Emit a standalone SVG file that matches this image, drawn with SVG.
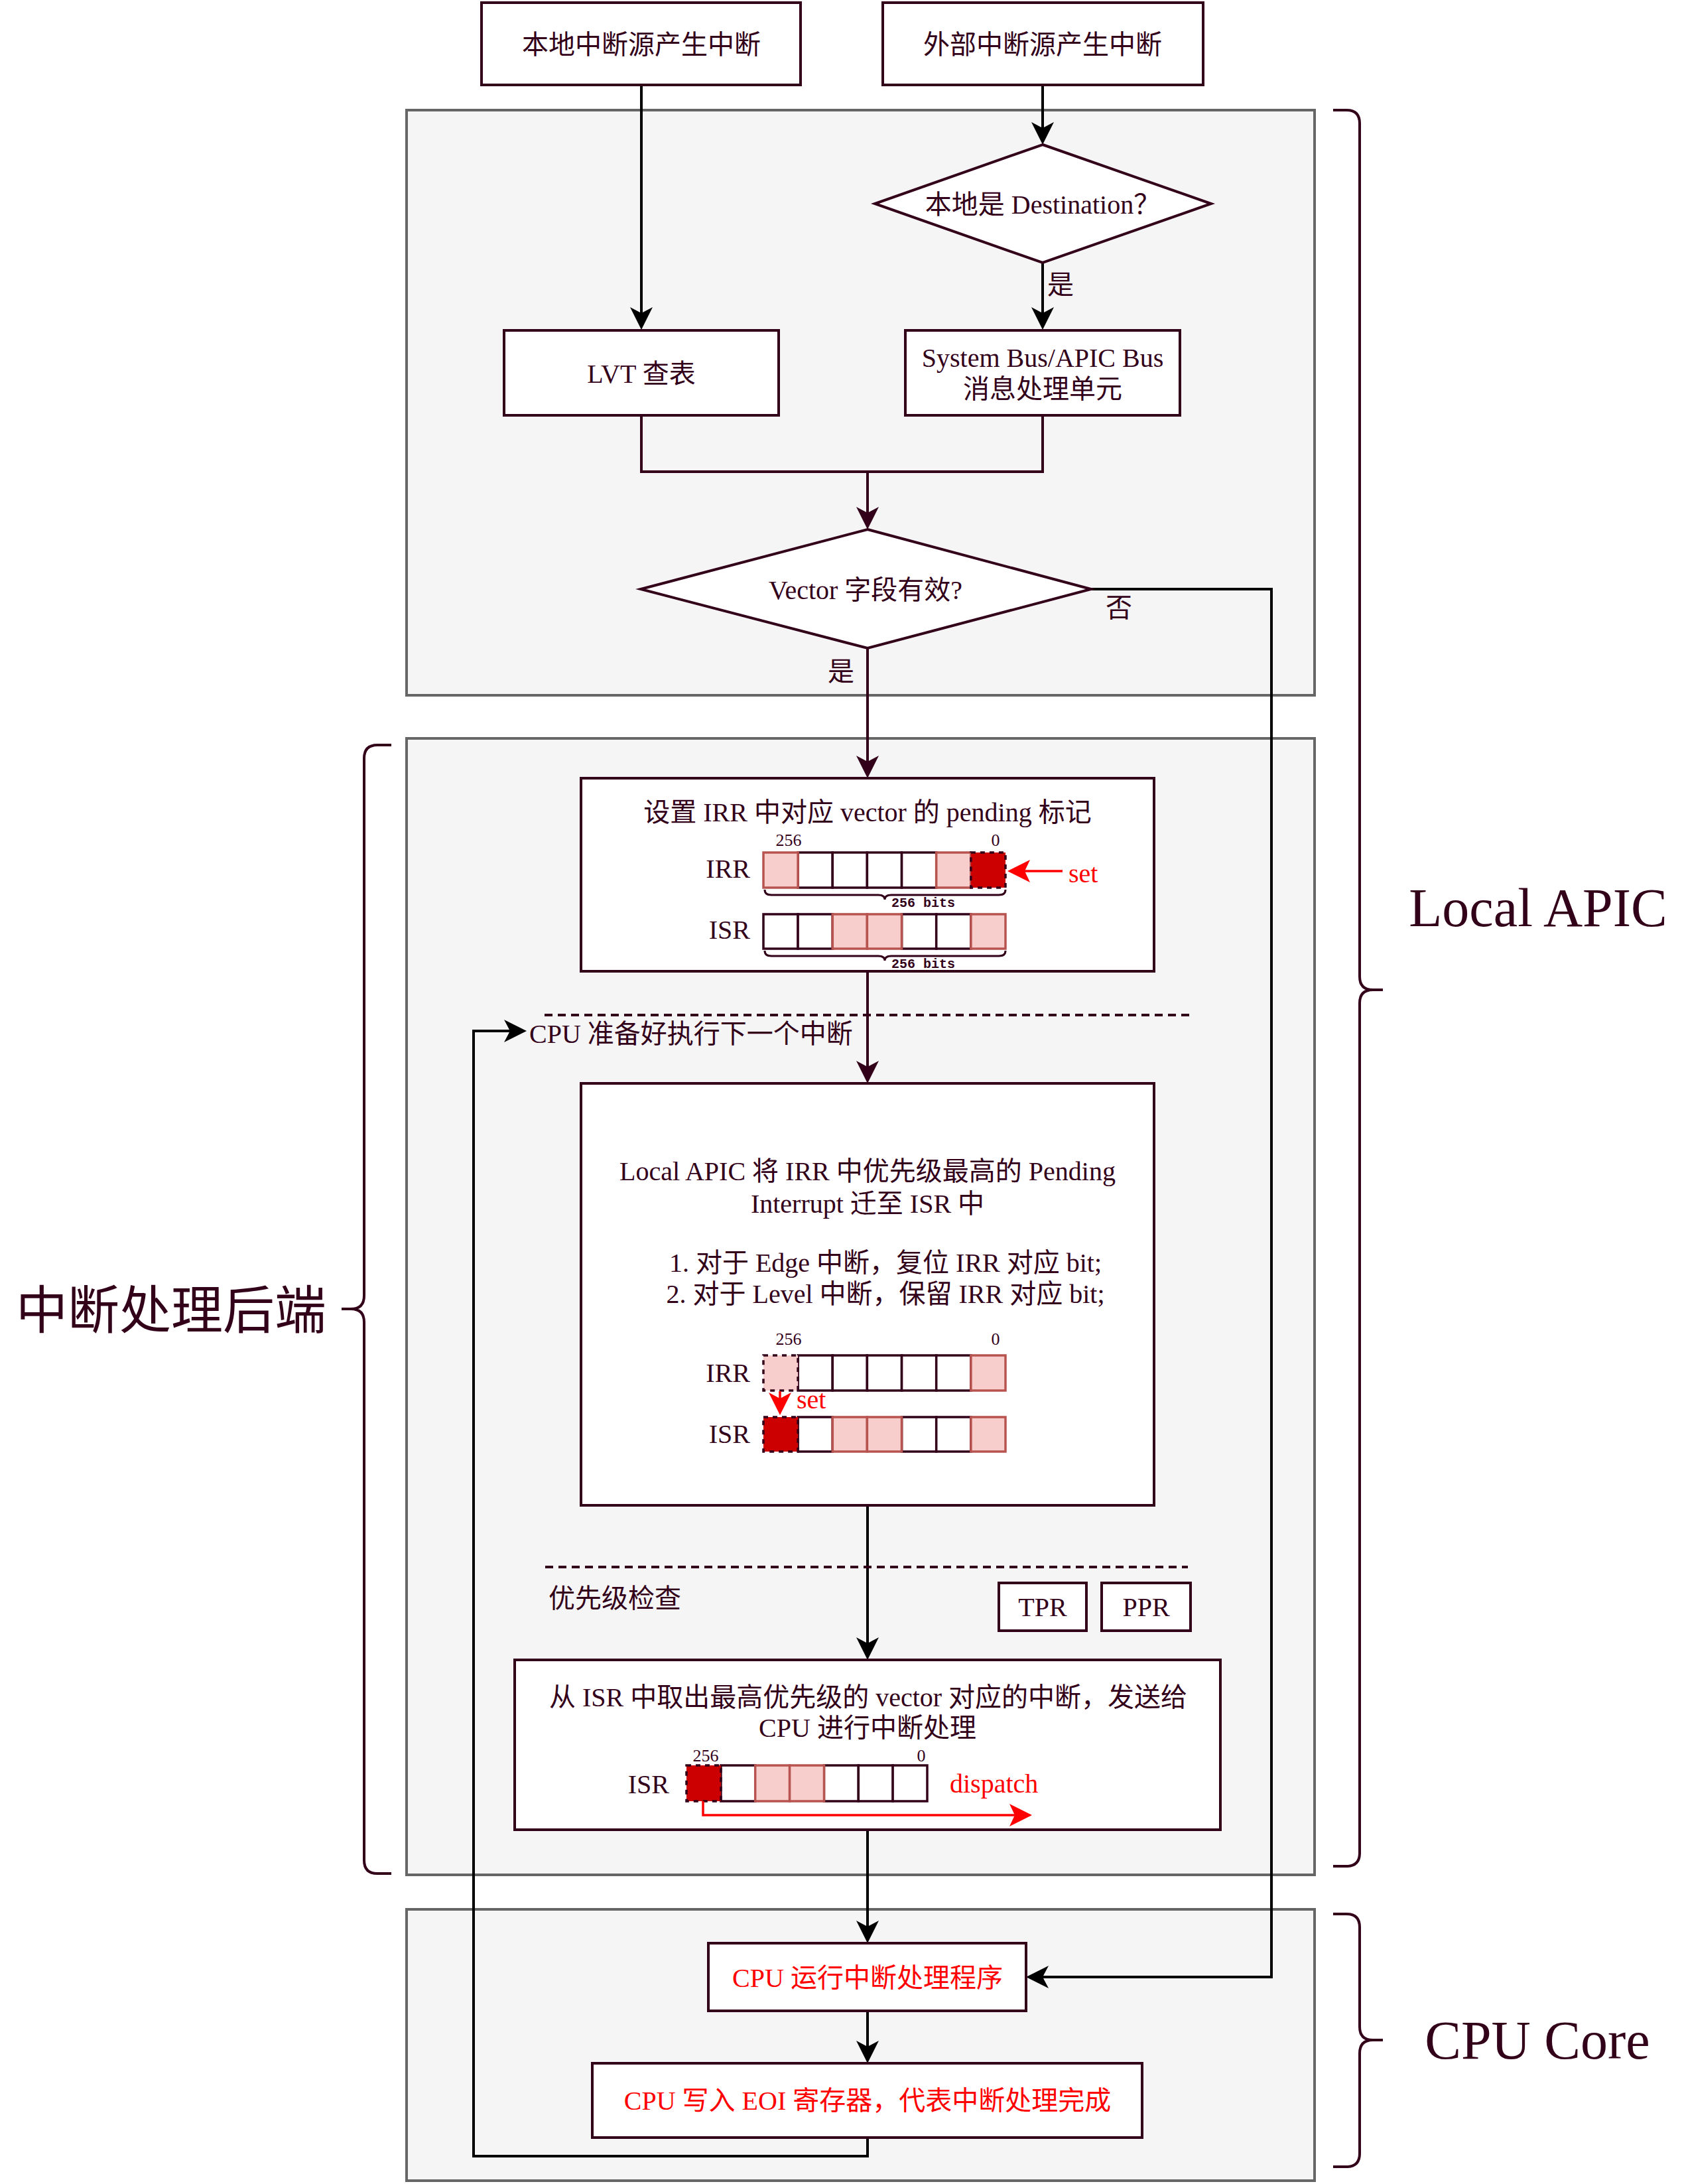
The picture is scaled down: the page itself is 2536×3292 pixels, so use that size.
<svg xmlns="http://www.w3.org/2000/svg" width="2536" height="3292" viewBox="0 0 2536 3292">
<style>
text{font-family:'Liberation Serif','Noto Sans CJK SC',serif;font-size:40px;fill:#33001a}
.c{text-anchor:middle}
.e{text-anchor:end}
.red{fill:#ff0000}
.big{font-size:82px}
.cjkbig{font-size:78px}
.mono{font-family:'Liberation Mono',monospace;font-size:20px;font-weight:bold}
.sm{font-size:26px}
.cont{fill:#f5f5f5;stroke:#666666;stroke-width:4}
.box{fill:#ffffff;stroke:#33001a;stroke-width:4}
.w{fill:#ffffff;stroke:#33001a;stroke-width:3.5}
.p{fill:#f8cecc;stroke:#b85450;stroke-width:3.5}
.d{fill:#cc0000;stroke:#33001a;stroke-width:3.5;stroke-dasharray:7 7}
.pd{fill:#f8cecc;stroke:#33001a;stroke-width:3.5;stroke-dasharray:7 7}
.conn{fill:none;stroke:#000000;stroke-width:4}
.connm{fill:none;stroke:#33001a;stroke-width:4}
.brace{fill:none;stroke:#33001a;stroke-width:4}
.sbrace{fill:none;stroke:#33001a;stroke-width:3}
.dash{stroke:#33001a;stroke-width:4;stroke-dasharray:12 8}
.ra{fill:none;stroke:#ff0000;stroke-width:3.5}
.rh{fill:#ff0000}
</style>
<defs>
<marker id="arr" viewBox="0 0 34 34" refX="10" refY="17" markerWidth="34" markerHeight="34" markerUnits="userSpaceOnUse" orient="auto"><path d="M0,0 L34,17 L0,34 L9,17 Z" fill="#000000"/></marker>
<marker id="arrm" viewBox="0 0 34 34" refX="10" refY="17" markerWidth="34" markerHeight="34" markerUnits="userSpaceOnUse" orient="auto"><path d="M0,0 L34,17 L0,34 L9,17 Z" fill="#33001a"/></marker>
</defs>

<!-- containers -->
<g id="container-local-apic-top"><rect class="cont" x="613" y="166" width="1369" height="882"/></g>
<g id="container-backend"><rect class="cont" x="613" y="1113" width="1369" height="1713"/></g>
<g id="container-cpu"><rect class="cont" x="613" y="2878" width="1369" height="409"/></g>

<!-- connectors -->
<g id="connectors">
<path class="conn" d="M967,128 V473" marker-end="url(#arr)"/>
<path class="conn" d="M1572,128 V194" marker-end="url(#arr)"/>
<path class="conn" d="M1572,395 V473" marker-end="url(#arr)"/>
<path class="connm" d="M967,626 V711 H1572 V626"/>
<path class="connm" d="M1308,711 V774" marker-end="url(#arrm)"/>
<path class="connm" d="M1308,977 V1149" marker-end="url(#arrm)"/>
<path class="conn" d="M1645,888 H1917 V2980 H1571" marker-end="url(#arr)"/>
<path class="connm" d="M1308,1464 V1609" marker-end="url(#arrm)"/>
<path class="conn" d="M1308,2269 V2478" marker-end="url(#arr)"/>
<path class="conn" d="M1308,2758 V2905" marker-end="url(#arr)"/>
<path class="conn" d="M1308,3031 V3086" marker-end="url(#arr)"/>
<path class="conn" d="M1308,3222 V3250 H714 V1554 H770" marker-end="url(#arr)"/>
<text x="1599" y="443" class="c">是</text>
<text x="1687" y="930" class="c">否</text>
<text x="1268" y="1026" class="c">是</text>
</g>

<!-- top nodes -->
<g id="node-local-src"><rect class="box" x="726" y="4" width="481" height="124"/><text x="967" y="81" class="c">本地中断源产生中断</text></g>
<g id="node-ext-src"><rect class="box" x="1331" y="4" width="483" height="124"/><text x="1572" y="81" class="c">外部中断源产生中断</text></g>
<g id="node-dest"><polygon class="box" points="1572,218 1826,307 1572,396 1319,307"/><text x="1572" y="322" class="c">本地是 Destination？</text></g>
<g id="node-lvt"><rect class="box" x="760" y="498" width="414" height="128"/><text x="967" y="577" class="c">LVT 查表</text></g>
<g id="node-sysbus"><rect class="box" x="1365" y="498" width="414" height="128"/><text x="1572" y="553" class="c">System Bus/APIC Bus</text><text x="1572" y="600" class="c">消息处理单元</text></g>
<g id="node-vector"><polygon class="box" points="1308,798 1645,888 1308,977 966,888"/><text x="1305" y="903" class="c">Vector 字段有效?</text></g>

<!-- box 1: set IRR -->
<g id="node-set-irr">
<rect class="box" x="876" y="1173" width="864" height="291"/>
<text x="1308" y="1238" class="c">设置 IRR 中对应 vector 的 pending 标记</text>
<text x="1189" y="1275" class="c sm">256</text>
<text x="1501" y="1275" class="c sm">0</text>
<text x="1131" y="1323" class="e">IRR</text>
<rect class="w" x="1203.1" y="1285" width="52.1" height="53"/>
<rect class="w" x="1255.3" y="1285" width="52.1" height="53"/>
<rect class="w" x="1307.4" y="1285" width="52.1" height="53"/>
<rect class="w" x="1359.6" y="1285" width="52.1" height="53"/>
<rect class="p" x="1151" y="1285" width="52.1" height="53"/>
<rect class="p" x="1411.7" y="1285" width="52.1" height="53"/>
<rect class="d" x="1463.9" y="1285" width="52.1" height="53"/>
<path class="sbrace" d="M1153,1341 Q1153,1349 1163,1349 H1324 Q1334,1349 1334,1356 Q1334,1349 1344,1349 H1506 Q1516,1349 1516,1341"/>
<text x="1344" y="1367" class="mono">256 bits</text>
<line class="ra" x1="1602" y1="1313" x2="1545" y2="1313"/>
<polygon class="rh" points="1519,1313 1553,1296 1545,1313 1553,1330"/>
<text x="1611" y="1330" class="red">set</text>
<text x="1131" y="1415" class="e">ISR</text>
<rect class="w" x="1151" y="1378" width="52.1" height="52"/>
<rect class="w" x="1203.1" y="1378" width="52.1" height="52"/>
<rect class="w" x="1359.6" y="1378" width="52.1" height="52"/>
<rect class="w" x="1411.7" y="1378" width="52.1" height="52"/>
<rect class="p" x="1255.3" y="1378" width="52.1" height="52"/>
<rect class="p" x="1307.4" y="1378" width="52.1" height="52"/>
<rect class="p" x="1463.9" y="1378" width="52.1" height="52"/>
<path class="sbrace" d="M1153,1433 Q1153,1441 1163,1441 H1324 Q1334,1441 1334,1448 Q1334,1441 1344,1441 H1506 Q1516,1441 1516,1433"/>
<text x="1344" y="1459" class="mono">256 bits</text>
</g>

<!-- dashed separator + loop label -->
<g id="label-cpu-ready">
<line class="dash" x1="821" y1="1530" x2="1795" y2="1530"/>
<text x="798" y="1572">CPU 准备好执行下一个中断</text>
</g>

<!-- box 2 -->
<g id="node-move-isr">
<rect class="box" x="876" y="1633" width="864" height="636"/>
<text x="1308" y="1779" class="c">Local APIC 将 IRR 中优先级最高的 Pending</text>
<text x="1308" y="1828" class="c">Interrupt 迁至 ISR 中</text>
<text x="1335" y="1917" class="c">1. 对于 Edge 中断，复位 IRR 对应 bit;</text>
<text x="1335" y="1964" class="c">2. 对于 Level 中断，保留 IRR 对应 bit;</text>
<text x="1189" y="2027" class="c sm">256</text>
<text x="1501" y="2027" class="c sm">0</text>
<text x="1131" y="2083" class="e">IRR</text>
<rect class="w" x="1203.1" y="2043" width="52.1" height="53"/>
<rect class="w" x="1255.3" y="2043" width="52.1" height="53"/>
<rect class="w" x="1307.4" y="2043" width="52.1" height="53"/>
<rect class="w" x="1359.6" y="2043" width="52.1" height="53"/>
<rect class="w" x="1411.7" y="2043" width="52.1" height="53"/>
<rect class="p" x="1463.9" y="2043" width="52.1" height="53"/>
<rect class="pd" x="1151" y="2043" width="52.1" height="53"/>
<line class="ra" x1="1176" y1="2097" x2="1176" y2="2110"/>
<polygon class="rh" points="1176,2133 1159,2099 1176,2108 1193,2099"/>
<text x="1201" y="2123" class="red">set</text>
<text x="1131" y="2175" class="e">ISR</text>
<rect class="w" x="1203.1" y="2136" width="52.1" height="52"/>
<rect class="w" x="1359.6" y="2136" width="52.1" height="52"/>
<rect class="w" x="1411.7" y="2136" width="52.1" height="52"/>
<rect class="p" x="1255.3" y="2136" width="52.1" height="52"/>
<rect class="p" x="1307.4" y="2136" width="52.1" height="52"/>
<rect class="p" x="1463.9" y="2136" width="52.1" height="52"/>
<rect class="d" x="1151" y="2136" width="52.1" height="52"/>
</g>

<!-- priority check -->
<g id="label-priority">
<line class="dash" x1="822" y1="2362" x2="1791" y2="2362"/>
<text x="827" y="2423">优先级检查</text>
</g>
<g id="node-tpr"><rect class="box" x="1506" y="2386" width="132" height="72"/><text x="1572" y="2436" class="c">TPR</text></g>
<g id="node-ppr"><rect class="box" x="1661" y="2386" width="134" height="72"/><text x="1728" y="2436" class="c">PPR</text></g>

<!-- box 3 -->
<g id="node-dispatch">
<rect class="box" x="776" y="2502" width="1064" height="256"/>
<text x="1309" y="2572" class="c">从 ISR 中取出最高优先级的 vector 对应的中断，发送给</text>
<text x="1308" y="2618" class="c">CPU 进行中断处理</text>
<text x="1064" y="2655" class="c sm">256</text>
<text x="1389" y="2655" class="c sm">0</text>
<text x="1009" y="2703" class="e">ISR</text>
<rect class="w" x="1086.9" y="2661" width="51.9" height="54"/>
<rect class="w" x="1242.4" y="2661" width="51.9" height="54"/>
<rect class="w" x="1294.3" y="2661" width="51.9" height="54"/>
<rect class="w" x="1346.1" y="2661" width="51.9" height="54"/>
<rect class="p" x="1138.7" y="2661" width="51.9" height="54"/>
<rect class="p" x="1190.6" y="2661" width="51.9" height="54"/>
<rect class="d" x="1035" y="2661" width="51.9" height="54"/>
<path class="ra" d="M1060,2715 V2736 H1532"/>
<polygon class="rh" points="1556,2736 1522,2719 1530,2736 1522,2753"/>
<text x="1432" y="2702" class="red">dispatch</text>
</g>

<!-- CPU nodes -->
<g id="node-cpu-run"><rect class="box" x="1068" y="2929" width="479" height="102"/><text x="1308" y="2995" class="c red">CPU 运行中断处理程序</text></g>
<g id="node-eoi"><rect class="box" x="893" y="3110" width="829" height="112"/><text x="1308" y="3180" class="c red">CPU 写入 EOI 寄存器，代表中断处理完成</text></g>

<!-- braces and big labels -->
<g id="brace-local-apic">
<path class="brace" d="M2010,166 H2030 Q2050,166 2050,186 V1472 Q2050,1492 2070,1492 H2085 M2070,1492 Q2050,1492 2050,1512 V2793 Q2050,2813 2030,2813 H2010"/>
<text x="2319" y="1396" class="c big">Local APIC</text>
</g>
<g id="brace-cpu-core">
<path class="brace" d="M2010,2885 H2030 Q2050,2885 2050,2905 V3055 Q2050,3075 2070,3075 H2085 M2070,3075 Q2050,3075 2050,3095 V3246 Q2050,3266 2030,3266 H2010"/>
<text x="2318" y="3103" class="c big">CPU Core</text>
</g>
<g id="brace-backend">
<path class="brace" d="M590,1123 H569 Q549,1123 549,1143 V1953 Q549,1973 529,1973 H515 M529,1973 Q549,1973 549,1993 V2804 Q549,2824 569,2824 H590"/>
<text x="24" y="2003" class="cjkbig">中断处理后端</text>
</g>
</svg>
